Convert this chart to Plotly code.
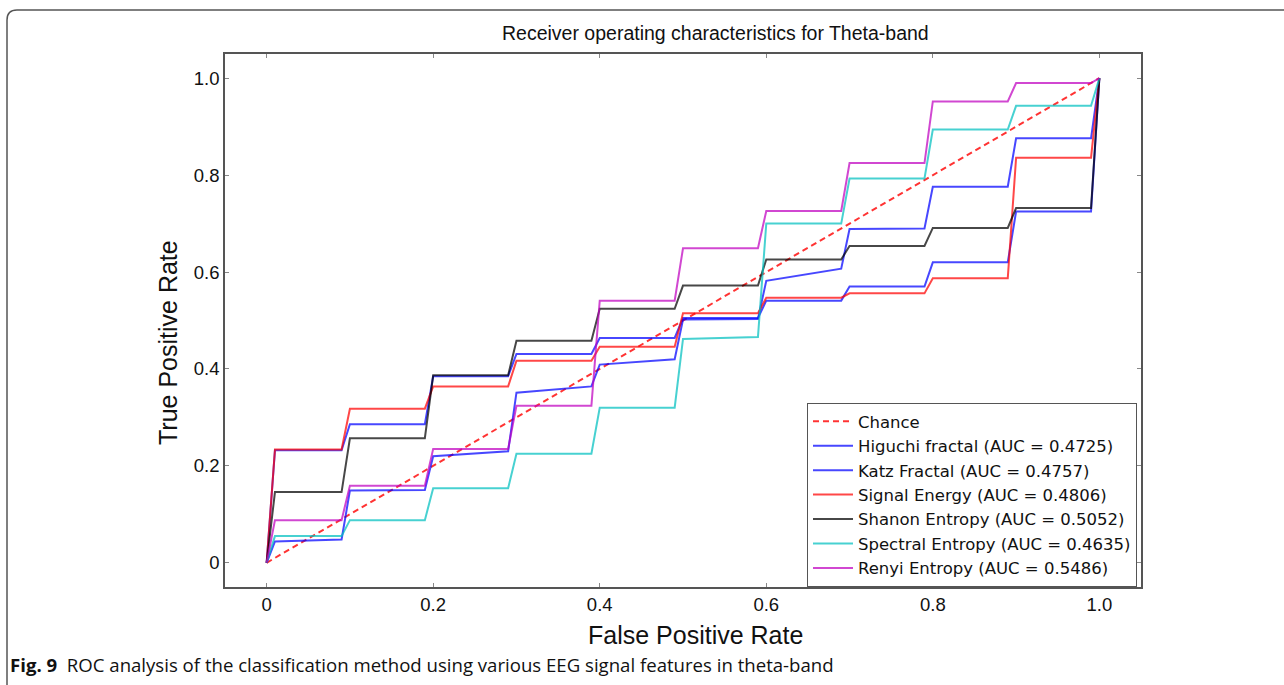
import plotly.graph_objects as go

# ROC curves, theta band
fpr = [0, 0.01, 0.09, 0.10, 0.19, 0.20, 0.29, 0.30, 0.39, 0.40, 0.49,
       0.50, 0.59, 0.60, 0.69, 0.70, 0.79, 0.80, 0.89, 0.90, 0.99, 1.0]

tpr_higuchi = [0, 0.044, 0.048, 0.149, 0.150, 0.220, 0.230, 0.351, 0.364, 0.409, 0.420,
               0.502, 0.503, 0.582, 0.607, 0.689, 0.690, 0.776, 0.776, 0.876, 0.876, 1.0]
tpr_katz = [0, 0.232, 0.232, 0.286, 0.286, 0.385, 0.385, 0.431, 0.431, 0.464, 0.464,
            0.505, 0.505, 0.541, 0.541, 0.570, 0.570, 0.620, 0.620, 0.725, 0.725, 1.0]
tpr_energy = [0, 0.234, 0.234, 0.318, 0.318, 0.364, 0.364, 0.417, 0.417, 0.446, 0.446,
              0.515, 0.515, 0.547, 0.547, 0.556, 0.556, 0.587, 0.587, 0.836, 0.836, 1.0]
tpr_shanon = [0, 0.146, 0.146, 0.257, 0.257, 0.387, 0.387, 0.458, 0.458, 0.524, 0.524,
              0.572, 0.572, 0.626, 0.626, 0.654, 0.654, 0.691, 0.691, 0.732, 0.732, 1.0]
tpr_spectral = [0, 0.055, 0.055, 0.088, 0.088, 0.154, 0.154, 0.225, 0.225, 0.320, 0.320,
                0.462, 0.466, 0.700, 0.700, 0.793, 0.793, 0.894, 0.894, 0.943, 0.943, 1.0]
tpr_renyi = [0, 0.088, 0.088, 0.159, 0.159, 0.235, 0.235, 0.324, 0.324, 0.541, 0.541,
             0.649, 0.649, 0.726, 0.726, 0.825, 0.825, 0.952, 0.952, 0.990, 0.990, 1.0]

series_names = [
    "Higuchi fractal (AUC = 0.4725)",
    "Katz Fractal (AUC = 0.4757)",
    "Signal Energy (AUC = 0.4806)",
    "Shanon Entropy (AUC = 0.5052)",
    "Spectral Entropy (AUC = 0.4635)",
    "Renyi Entropy (AUC = 0.5486)",
]
series_values = [tpr_higuchi, tpr_katz, tpr_energy, tpr_shanon, tpr_spectral, tpr_renyi]
series_colors = [
    "rgba(0,0,255,0.72)",
    "rgba(0,0,255,0.72)",
    "rgba(255,0,0,0.72)",
    "rgba(0,0,0,0.72)",
    "rgba(0,191,191,0.72)",
    "rgba(191,0,191,0.72)",
]

chance = [0, 1]
tick_vals = [0, 0.2, 0.4, 0.6, 0.8, 1.0]
tick_text = ["0", "0.2", "0.4", "0.6", "0.8", "1.0"]

fig = go.Figure()

fig.add_trace(go.Scatter(
    x=chance, y=chance, mode="lines", name="Chance",
    line=dict(color="rgba(255,0,0,0.8)", width=2, dash="6px,4px"),
))

for name, vals, col in zip(series_names, series_values, series_colors):
    fig.add_trace(go.Scatter(
        x=fpr, y=vals, mode="lines", name=name,
        line=dict(color=col, width=2),
    ))

# plot area in pixels: left 225, right 1141, top 54, bottom 587
L, R, T, B = 225, 1141, 54, 587
W, H = 1284, 685
SANS = "Liberation Sans, Arial, sans-serif"


def px(X):
    return (X - L) / (R - L)


def py(Y):
    return (B - Y) / (B - T)


axis_common = dict(
    range=[-0.05, 1.05],
    tickvals=tick_vals,
    ticktext=tick_text,
    ticks="inside",
    ticklen=4,
    tickcolor="#888888",
    showline=True,
    linecolor="#555555",
    linewidth=1.5,
    mirror="ticks",
    showgrid=False,
    zeroline=False,
    tickfont=dict(family=SANS, size=18.5, color="#111111"),
)

fig.update_layout(
    width=W, height=H,
    margin=dict(l=L, r=W - R, t=T, b=H - B),
    paper_bgcolor="white",
    plot_bgcolor="white",
    showlegend=True,
    xaxis=dict(**axis_common),
    yaxis=dict(**axis_common),
    legend=dict(
        x=px(807), y=py(403), xanchor="left", yanchor="top",
        bgcolor="white", bordercolor="#555555", borderwidth=1,
        font=dict(family="DejaVu Sans, sans-serif", size=16.5, color="#111111"),
        tracegroupgap=0, itemwidth=40,
    ),
    annotations=[
        dict(text="Receiver operating characteristics for Theta-band",
             x=px(715), y=py(33), xref="paper", yref="paper",
             xanchor="center", yanchor="middle", showarrow=False,
             font=dict(family=SANS, size=19.5, color="#111111")),
        dict(text="False Positive Rate",
             x=px(695), y=py(635), xref="paper", yref="paper",
             xanchor="center", yanchor="middle", showarrow=False,
             font=dict(family=SANS, size=25, color="#111111")),
        dict(text="True Positive Rate", textangle=-90,
             x=px(168), y=py(343), xref="paper", yref="paper",
             xanchor="center", yanchor="middle", showarrow=False,
             font=dict(family=SANS, size=25, color="#111111")),
        dict(text="<b>Fig. 9</b>  ROC analysis of the classification method using various EEG signal features in theta-band",
             x=px(8), y=py(664), xref="paper", yref="paper",
             xanchor="left", yanchor="middle", showarrow=False,
             font=dict(family="Open Sans, sans-serif", size=18.6, color="#111111")),
    ],
)

# rounded page border (top and left sides)
fig.add_shape(
    type="path", xref="paper", yref="paper",
    path=(f"M {px(7)} {py(H + 5)} L {px(7)} {py(20)} "
          f"Q {px(7)} {py(10)} {px(17)} {py(10)} L {px(W + 5)} {py(10)}"),
    line=dict(color="#555555", width=1.5),
)

fig.write_html("out.html")
